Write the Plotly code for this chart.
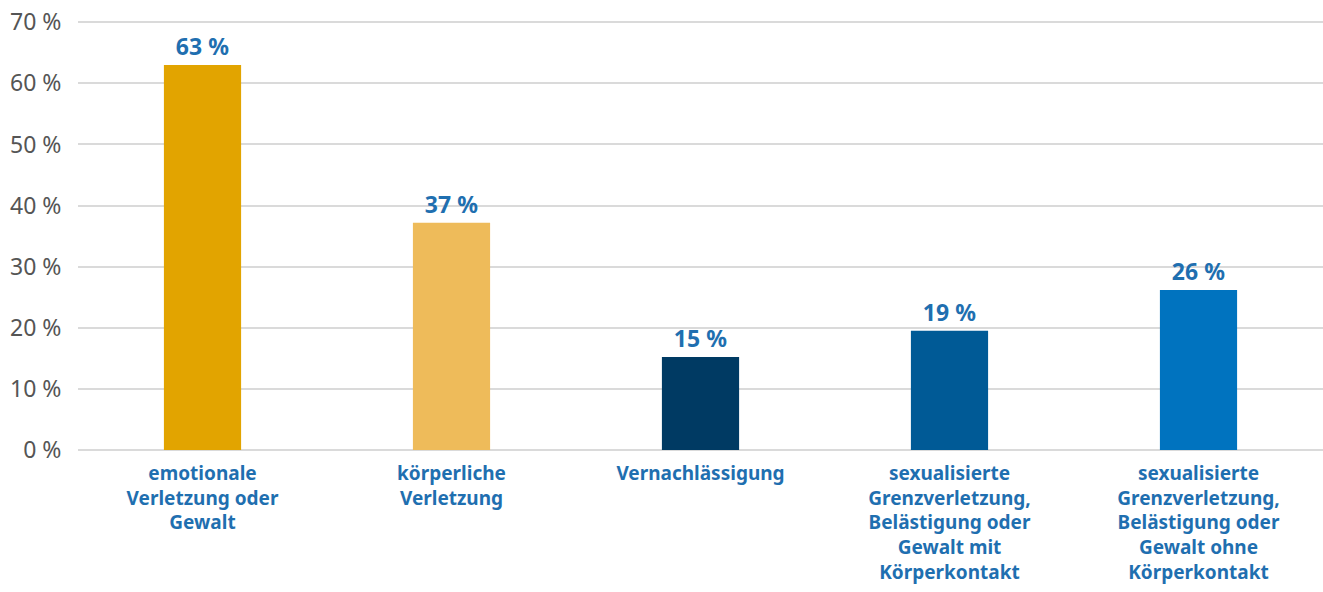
import plotly.graph_objects as go

categories = [
    "emotionale<br>Verletzung oder<br>Gewalt",
    "körperliche<br>Verletzung",
    "Vernachlässigung",
    "sexualisierte<br>Grenzverletzung,<br>Belästigung oder<br>Gewalt mit<br>Körperkontakt",
    "sexualisierte<br>Grenzverletzung,<br>Belästigung oder<br>Gewalt ohne<br>Körperkontakt",
]
values = [63, 37.2, 15.2, 19.5, 26.2]
labels = ["63 %", "37 %", "15 %", "19 %", "26 %"]
colors = ["#E2A400", "#EEBB5A", "#003A63", "#005A96", "#0073BF"]
ytick_vals = [0, 10, 20, 30, 40, 50, 60, 70]
ytick_text = ["0 %", "10 %", "20 %", "30 %", "40 %", "50 %", "60 %", "70 %"]

label_blue = "#1F6FB0"
font_family = "Noto Sans"

fig = go.Figure(
    go.Bar(
        x=categories,
        y=values,
        marker=dict(color=colors, line=dict(width=0)),
        text=labels,
        textposition="outside",
        textfont=dict(family=font_family, size=23, color=label_blue, weight="bold"),
        cliponaxis=False,
        hoverinfo="skip",
    )
)

fig.update_layout(
    width=1323,
    height=592,
    margin=dict(l=78, r=0, t=10, b=142),
    paper_bgcolor="white",
    plot_bgcolor="white",
    bargap=0.69,
    showlegend=False,
    font=dict(family=font_family),
)

fig.update_xaxes(
    automargin=False,
    showgrid=False,
    showline=False,
    zeroline=False,
    ticks="outside",
    ticklen=6,
    tickcolor="rgba(0,0,0,0)",
    tickfont=dict(family=font_family, size=19, color=label_blue, weight="bold"),
    tickangle=0,
)

fig.update_yaxes(
    automargin=False,
    range=[0, 72],
    tickvals=ytick_vals,
    ticktext=ytick_text,
    showgrid=True,
    gridcolor="#DADADA",
    gridwidth=2,
    zeroline=True,
    zerolinecolor="#DADADA",
    zerolinewidth=2,
    showline=False,
    ticks="outside",
    ticklen=11,
    tickcolor="rgba(0,0,0,0)",
    tickfont=dict(family=font_family, size=23, color="#555555"),
)

fig.write_html(
    "out.html",
    config={"displayModeBar": False},
    post_script="document.body.style.margin='0';document.body.style.overflow='hidden';",
)
